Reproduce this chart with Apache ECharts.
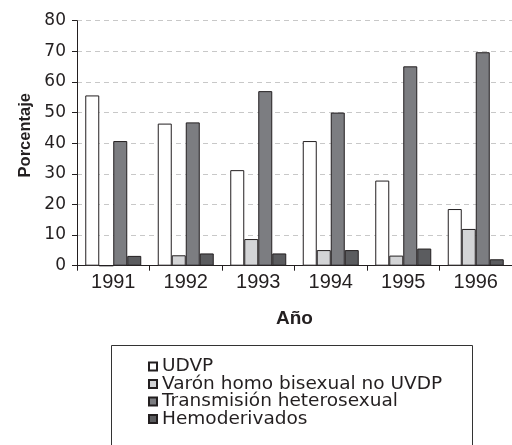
<!DOCTYPE html>
<html><head><meta charset="utf-8">
<script src="https://cdn.jsdelivr.net/npm/echarts@6/dist/echarts.min.js"></script>
<style>html,body{margin:0;padding:0;background:#fff}#c{width:512px;height:445px}</style>
</head><body><div id="c"></div>
<script>
const categories = ['1991','1992','1993','1994','1995','1996'];
const udvp = [55.6, 46.4, 31.2, 40.7, 27.8, 18.5];
const varon = [0, 3.4, 8.7, 5.1, 3.3, 12.0];
const transmision = [40.7, 46.8, 57.0, 50.0, 65.1, 69.7];
const hemoderivados = [3.2, 4.0, 4.0, 5.1, 5.6, 2.1];
const seriesNames = ['UDVP','Varón homo bisexual no UVDP','Transmisión heterosexual','Hemoderivados'];
const yTicks = [0,10,20,30,40,50,60,70,80];

const FONT = 'Liberation Sans, Arial, sans-serif';
const WIDE = 'DejaVu Sans, sans-serif';
const TXT = '#231f20';
const colors = ['#ffffff','#d3d4d6','#7c7d81','#5b5c5f'];
const data = [udvp, varon, transmision, hemoderivados];

const chart = echarts.init(document.getElementById('c'), null, {renderer:'canvas'});
chart.setOption({
  animation:false,
  textStyle:{fontFamily:FONT},
  graphic:[{type:'rect', shape:{x:111.5,y:345.5,width:361,height:120}, style:{fill:'#fff',stroke:'#333',lineWidth:1}, z:0}],
  legend:{
    orient:'vertical', left:143, top:352,
    itemWidth:8, itemHeight:8, itemGap:-1.5,
    icon:'rect',
    textStyle:{fontFamily:WIDE, fontSize:18.5, color:TXT, lineHeight:16},
    data:seriesNames, z:5
  },
  grid:{left:77, top:20.7, width:438, height:245, containLabel:false},
  xAxis:{
    type:'category', data:categories,
    name:'Año', nameLocation:'middle', nameGap:44,
    nameTextStyle:{fontFamily:FONT, fontSize:19, fontWeight:'bold', color:TXT},
    axisLine:{lineStyle:{color:'#231f20', width:1}},
    axisTick:{show:true, length:5, lineStyle:{color:'#231f20'}},
    axisLabel:{fontFamily:FONT, fontSize:20, color:TXT, margin:7}
  },
  yAxis:{
    type:'value', min:0, max:80, interval:10,
    name:'Porcentaje', nameLocation:'middle', nameGap:42, nameRotate:90,
    nameTextStyle:{fontFamily:FONT, fontSize:16.5, fontWeight:'bold', color:TXT, padding:[0,0,0,16]},
    axisLine:{show:true, lineStyle:{color:'#231f20', width:1}},
    axisTick:{show:true, length:5, lineStyle:{color:'#231f20'}},
    axisLabel:{fontFamily:WIDE, fontSize:17, color:TXT, margin:11,
      formatter:function(v){return yTicks.indexOf(v)>=0?String(v):'';}},
    splitLine:{show:true, lineStyle:{color:'#c8c8c8', type:[5,4], width:1}}
  },
  series: seriesNames.map((n,i)=>({
    name:n, type:'bar', data:data[i], barWidth:14, barGap:'0%',
    itemStyle:{color:colors[i], borderColor:'#231f20', borderWidth:1}
  }))
});
</script></body></html>
